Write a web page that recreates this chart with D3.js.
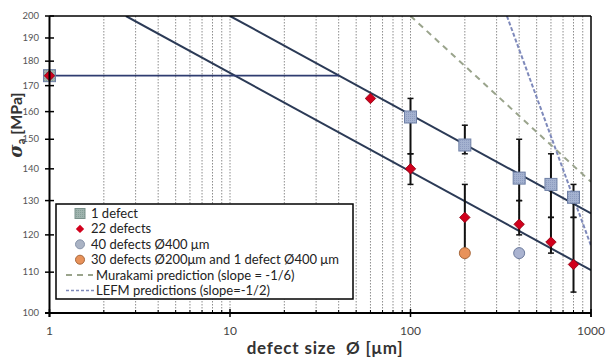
<!DOCTYPE html>
<html><head><meta charset="utf-8">
<script src="https://cdn.jsdelivr.net/npm/d3@7"></script>
<style>body{margin:0;background:#fff}svg{display:block}text{font-family:Lato,"Open Sans",sans-serif}</style>
</head><body>
<script>
// ---- data ----
const oneDefectX  = [1, 100, 200, 400, 600, 800];
const oneDefectY  = [174, 158, 148, 137, 135, 131];
const oneDefectLo = [null, 145, 145, 130, 125, 125];
const oneDefectHi = [null, 165, 155, 150, 145, 135];

const defects22X  = [1, 60, 100, 200, 400, 600, 800];
const defects22Y  = [174, 165, 140, 125, 123, 118, 112];
const defects22Lo = [null, null, 135, 115, 120, 115, 105];
const defects22Hi = [null, null, 145, 135, 130, 125, 125];

const defects40X = [400], defects40Y = [115];
const defects30X = [200], defects30Y = [115];

const fitUpper   = [[10, 200], [1000, 126.2]];
const fitLower   = [[2.65, 200], [1000, 110.5]];
const plateau    = [[1, 174], [40.3, 174]];
const murakami   = [[100, 200], [1000, 135.8]];
const lefm       = [[342, 200], [1000, 117]];

const xTicks = [1, 10, 100, 1000];
const yTicks = [100, 110, 120, 130, 140, 150, 160, 170, 180, 190, 200];
const legendLabels = ["1 defect", "22 defects", "40 defects Ø400 μm",
  "30 defects Ø200μm and 1 defect Ø400 μm", "Murakami prediction (slope = -1/6)",
  "LEFM predictions (slope=-1/2)"];

// ---- chart ----
const W = 606, H = 358;
const svg = d3.select("body").append("svg").attr("width", W).attr("height", H);
const x = d3.scaleLog().domain([1, 1000]).range([49.5, 591]);
const y = d3.scaleLog().domain([100, 200]).range([313, 16]);

svg.append("clipPath").attr("id", "clip").append("rect")
  .attr("x", 49.5).attr("y", 16).attr("width", 591 - 49.5).attr("height", 313 - 16);

// vertical gridlines
const minor = [];
for (let d = 1; d <= 100; d *= 10) for (let k = 2; k <= 10; k++) minor.push(d * k);
svg.append("g").selectAll("line").data(minor.filter(v => v < 1000)).join("line")
  .attr("x1", d => x(d)).attr("x2", d => x(d)).attr("y1", 16).attr("y2", 313)
  .attr("stroke", "#707070").attr("stroke-width", 0.8).attr("stroke-dasharray", "1.5,1.5");

const line = d3.line().x(d => x(d[0])).y(d => y(d[1]));
const gl = svg.append("g").attr("clip-path", "url(#clip)");
gl.append("path").attr("d", line(murakami)).attr("fill", "none")
  .attr("stroke", "#9aa48c").attr("stroke-width", 2).attr("stroke-dasharray", "6,5");
gl.append("path").attr("d", line(lefm)).attr("fill", "none")
  .attr("stroke", "#7f8abb").attr("stroke-width", 2).attr("stroke-dasharray", "4,2");
gl.append("path").attr("d", line(fitUpper)).attr("fill", "none").attr("stroke", "#2b3a56").attr("stroke-width", 2);
gl.append("path").attr("d", line(fitLower)).attr("fill", "none").attr("stroke", "#2b3a56").attr("stroke-width", 2);
gl.append("path").attr("d", line(plateau)).attr("fill", "none").attr("stroke", "#2e3c70").attr("stroke-width", 1.6);

// error bars
function errBars(xs, lo, hi) {
  const data = xs.map((v, i) => ({x: v, lo: lo[i], hi: hi[i]})).filter(d => d.lo != null);
  const g = svg.append("g").attr("stroke", "#111").attr("stroke-width", 2);
  g.selectAll(".v").data(data).join("line")
    .attr("x1", d => x(d.x)).attr("x2", d => x(d.x)).attr("y1", d => y(d.lo)).attr("y2", d => y(d.hi));
  g.selectAll(".t").data(data).join("line").attr("stroke-width", 1.5)
    .attr("x1", d => x(d.x) - 3).attr("x2", d => x(d.x) + 3).attr("y1", d => y(d.hi)).attr("y2", d => y(d.hi));
  g.selectAll(".b").data(data).join("line").attr("stroke-width", 1.5)
    .attr("x1", d => x(d.x) - 3).attr("x2", d => x(d.x) + 3).attr("y1", d => y(d.lo)).attr("y2", d => y(d.lo));
}
errBars(oneDefectX, oneDefectLo, oneDefectHi);
errBars(defects22X, defects22Lo, defects22Hi);

// markers
const defs = svg.append("defs");
const pat = defs.append("pattern").attr("id", "hatch").attr("width", 2).attr("height", 2).attr("patternUnits", "userSpaceOnUse");
pat.append("rect").attr("width", 2).attr("height", 2).attr("fill", "#a4b2d0");
pat.append("rect").attr("width", 1).attr("height", 1).attr("fill", "#8e9cc0");
const patG = defs.append("pattern").attr("id", "hatchG").attr("width", 2).attr("height", 2).attr("patternUnits", "userSpaceOnUse");
patG.append("rect").attr("width", 2).attr("height", 2).attr("fill", "#9fb3ae");
patG.append("rect").attr("width", 1).attr("height", 1).attr("fill", "#86a098");

const sq = 12;
svg.append("g").selectAll("rect").data(oneDefectX.map((v, i) => [v, oneDefectY[i]])).join("rect")
  .attr("x", d => x(d[0]) - sq / 2).attr("y", d => y(d[1]) - sq / 2).attr("width", sq).attr("height", sq)
  .attr("fill", (d, i) => i === 0 ? "url(#hatchG)" : "url(#hatch)").attr("stroke", "#6f80a6").attr("stroke-width", 1);

const diamond = d3.symbol().type(d3.symbolDiamond2).size(70);
svg.append("g").selectAll("path").data(defects22X.map((v, i) => [v, defects22Y[i]])).join("path")
  .attr("d", diamond).attr("transform", d => `translate(${x(d[0])},${y(d[1])})`)
  .attr("fill", "#d1001c").attr("stroke", "#8a0010").attr("stroke-width", 0.8);

svg.append("g").selectAll("circle").data(defects40X.map((v, i) => [v, defects40Y[i]])).join("circle")
  .attr("cx", d => x(d[0])).attr("cy", d => y(d[1])).attr("r", 5.5)
  .attr("fill", "#aab3d0").attr("stroke", "#6e7c9e").attr("stroke-width", 1);
svg.append("g").selectAll("circle").data(defects30X.map((v, i) => [v, defects30Y[i]])).join("circle")
  .attr("cx", d => x(d[0])).attr("cy", d => y(d[1])).attr("r", 5.5)
  .attr("fill", "#e8925a").attr("stroke", "#a8683c").attr("stroke-width", 1);

// axes
const ax = svg.append("g").attr("stroke", "#000");
ax.append("line").attr("x1", 45).attr("x2", 591).attr("y1", 313).attr("y2", 313).attr("stroke-width", 2);
ax.append("line").attr("x1", 49.5).attr("x2", 49.5).attr("y1", 16).attr("y2", 317).attr("stroke-width", 2);
ax.append("line").attr("x1", 49.5).attr("x2", 591).attr("y1", 16).attr("y2", 16).attr("stroke-width", 1.5);
ax.append("line").attr("x1", 591).attr("x2", 591).attr("y1", 16).attr("y2", 317).attr("stroke-width", 1.5);
ax.selectAll(".yt").data(yTicks).join("line").attr("stroke-width", 1.5)
  .attr("x1", 45).attr("x2", 54).attr("y1", d => y(d)).attr("y2", d => y(d));
ax.selectAll(".xt").data(xTicks).join("line").attr("stroke-width", 1.5)
  .attr("x1", d => x(d)).attr("x2", d => x(d)).attr("y1", 309).attr("y2", 317);
ax.selectAll(".xm").data(minor.filter(v => !xTicks.includes(v))).join("line").attr("stroke-width", 1)
  .attr("x1", d => x(d)).attr("x2", d => x(d)).attr("y1", 310).attr("y2", 313);

svg.append("g").selectAll("text").data(yTicks).join("text")
  .attr("x", 39).attr("y", d => y(d) + 3).attr("text-anchor", "end")
  .attr("font-size", 9.5).attr("fill", "#555").text(d => d);
svg.append("g").selectAll("text").data(xTicks).join("text")
  .attr("x", d => x(d)).attr("y", 335).attr("text-anchor", "middle")
  .attr("font-size", 12).attr("fill", "#444").text(d => d);

svg.append("text").attr("x", 325).attr("y", 354).attr("text-anchor", "middle")
  .attr("font-family", "'Open Sans'").attr("font-size", 17).attr("font-weight", "bold")
  .attr("letter-spacing", 0.8).attr("fill", "#333").text("defect size\u00a0\u00a0Ø [μm]");
const yt = svg.append("text").attr("transform", "translate(22,125) rotate(-90)").attr("text-anchor", "middle")
  .attr("font-family", "'Open Sans'").attr("font-size", 16).attr("font-weight", "bold").attr("fill", "#333");
yt.append("tspan").attr("font-style", "italic").attr("font-family", "DejaVu Serif").attr("font-size", 18).text("σ");
yt.append("tspan").attr("font-size", 11).attr("dy", 3).text("a");
yt.append("tspan").attr("dy", -3).text(" [MPa]");

// legend
const lg = svg.append("g");
lg.append("rect").attr("x", 56).attr("y", 204).attr("width", 297).attr("height", 95)
  .attr("fill", "#fff").attr("stroke", "#000").attr("stroke-width", 1.5);
const ly = i => 213.5 + i * 15.4;
lg.append("rect").attr("x", 75).attr("y", ly(0) - 5).attr("width", 10).attr("height", 10)
  .attr("fill", "url(#hatchG)").attr("stroke", "#7a918b");
lg.append("path").attr("d", d3.symbol().type(d3.symbolDiamond2).size(45))
  .attr("transform", `translate(80,${ly(1)})`).attr("fill", "#d1001c");
lg.append("circle").attr("cx", 80).attr("cy", ly(2)).attr("r", 4.5).attr("fill", "#aab3c4").attr("stroke", "#8894aa");
lg.append("circle").attr("cx", 80).attr("cy", ly(3)).attr("r", 4.5).attr("fill", "#e8925a").attr("stroke", "#a8683c");
lg.append("line").attr("x1", 66).attr("x2", 93).attr("y1", ly(4)).attr("y2", ly(4))
  .attr("stroke", "#9aa48c").attr("stroke-width", 2).attr("stroke-dasharray", "6,5");
lg.append("line").attr("x1", 66).attr("x2", 94).attr("y1", ly(5)).attr("y2", ly(5))
  .attr("stroke", "#7f8abb").attr("stroke-width", 1.5).attr("stroke-dasharray", "3,2");
lg.selectAll("text").data(legendLabels).join("text")
  .attr("x", (d, i) => i < 4 ? 91 : 96).attr("y", (d, i) => ly(i) + 4.5)
  .attr("font-size", 13).attr("fill", "#222").text(d => d);
</script>
</body></html>
